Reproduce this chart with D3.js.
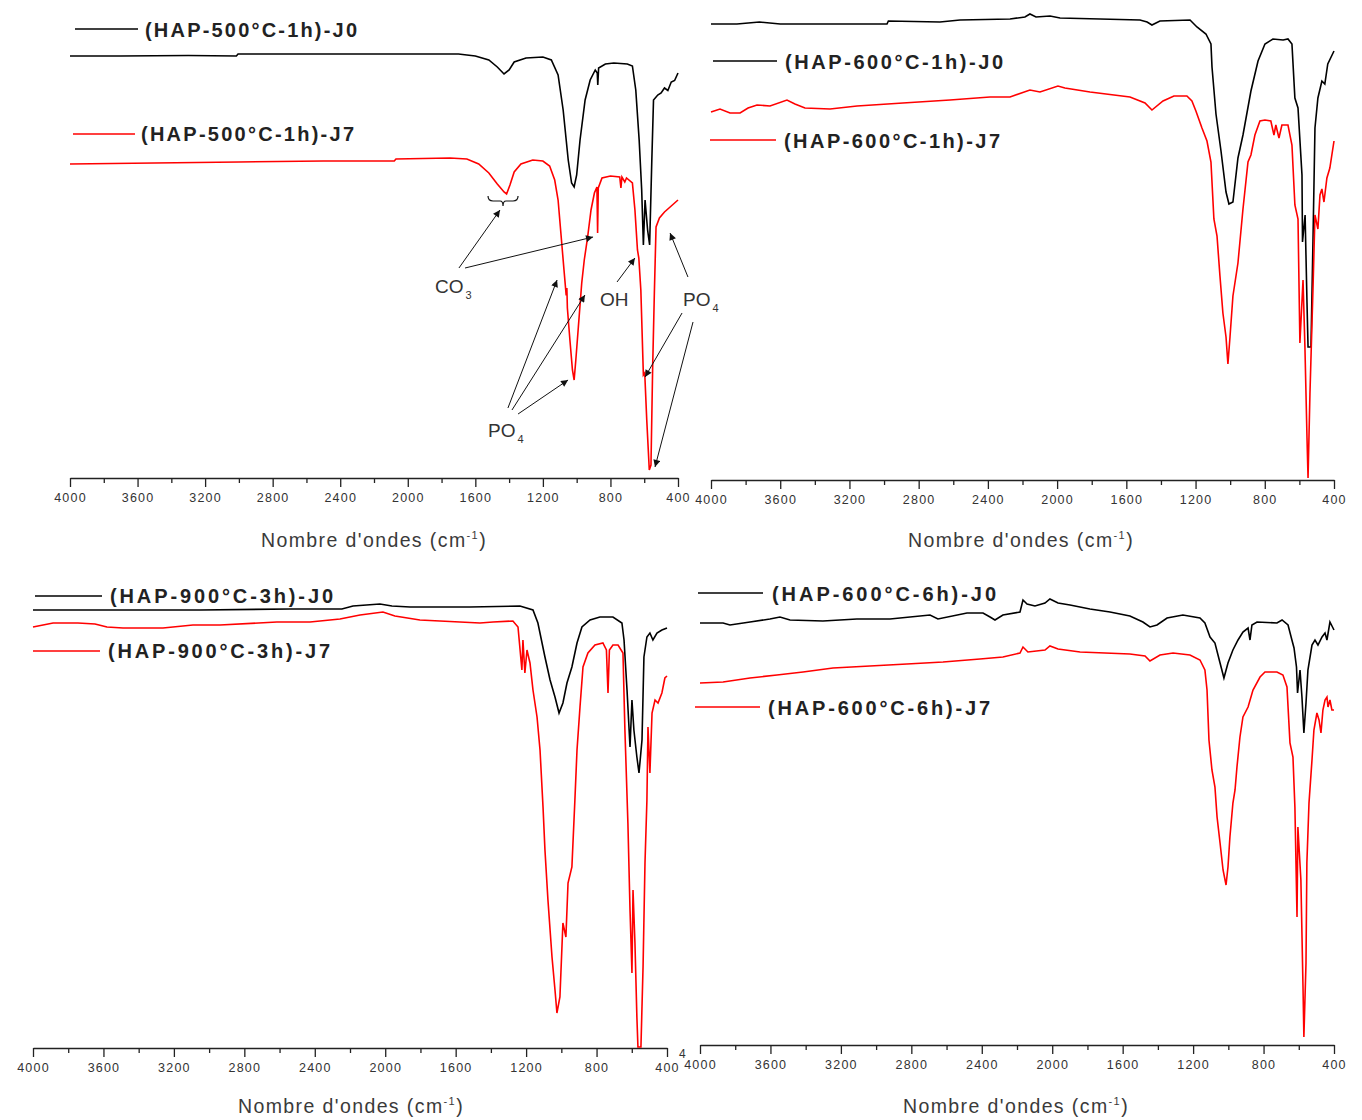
<!DOCTYPE html>
<html><head><meta charset="utf-8">
<script src="https://cdn.jsdelivr.net/npm/d3@7"></script>
<style>
body{margin:0;background:#fff}
text{font-family:"Liberation Sans",Arial,sans-serif}
</style>
</head><body>
<svg id="chart" width="1362" height="1120"></svg>
<script>
// ---------------- DATA ----------------
const majorTicks = [4000,3600,3200,2800,2400,2000,1600,1200,800,400];
const minorTicks = [3800,3400,3000,2600,2200,1800,1400,1000,600];
const seriesLabels = [
  "(HAP-500°C-1h)-J0","(HAP-500°C-1h)-J7",
  "(HAP-600°C-1h)-J0","(HAP-600°C-1h)-J7",
  "(HAP-900°C-3h)-J0","(HAP-900°C-3h)-J7",
  "(HAP-600°C-6h)-J0","(HAP-600°C-6h)-J7"
];
const axisTitle = "Nombre d'ondes (cm";
const axisTitleSup = "-1";

// [wavenumber cm-1, transmittance (a.u.)]
const hap500_1h_J0 = [[4000,84.4],[3700,84.4],[3300,84.5],[3015,84.4],[3005,84.8],[2400,84.8],[1700,84.8],[1600,84.4],[1520,83.6],[1470,82.2],[1430,80.8],[1400,81.6],[1370,83.2],[1300,84],[1200,84.2],[1150,83.6],[1110,80.6],[1080,73.6],[1050,63.6],[1030,59],[1015,58.2],[1000,60.6],[980,67.6],[950,75.6],[920,79.6],[890,81.6],[878,81],[875,78.6],[870,82],[830,82.8],[780,83],[700,82.8],[670,82.4],[650,77.6],[630,67.6],[615,57.6],[605,46.6],[595,55.6],[580,49.6],[568,46.6],[555,63.6],[545,75.6],[520,76.6],[500,77],[480,78],[460,77.5],[440,79.2],[420,79.5],[400,81]];
const hap500_1h_J7 = [[4000,62.8],[3500,63],[3000,63.2],[2500,63.4],[2080,63.4],[2070,63.8],[1750,64],[1650,63.8],[1580,62.8],[1520,61],[1470,58.8],[1430,57.2],[1415,56.8],[1395,58.6],[1370,61.2],[1330,62.8],[1260,63.6],[1200,63.4],[1160,62.4],[1130,59.6],[1110,55.6],[1090,47.6],[1075,41.6],[1062,36.5],[1058,38],[1055,34],[1040,27.6],[1025,21.6],[1015,19.6],[1005,23.6],[990,30.2],[970,39],[955,43.6],[935,48.2],[915,53.6],[895,57],[880,58.2],[876,49],[872,58],[850,60],[800,60.4],[745,60.2],[738,58],[732,60.2],[715,59.2],[705,60],[670,59],[655,53.6],[640,45.6],[632,44],[620,37.6],[605,20.6],[597,21],[585,11.6],[570,1.6],[560,2.6],[550,22.2],[540,37],[530,50.2],[510,52],[480,53.2],[440,54.4],[400,55.6]];
const hap600_1h_J0 = [[4000,91.2],[3850,91.2],[3720,91.6],[3600,91.2],[2983,91.2],[2975,91.8],[2677,91.6],[2561,92],[2272,92.2],[2186,92.6],[2157,93.2],[2122,92.6],[2041,92.8],[1983,92.4],[1752,92.2],[1521,92],[1480,91.6],[1452,91],[1406,91.8],[1232,92],[1192,90.6],[1140,89.2],[1111,87.2],[1105,82.6],[1082,73.2],[1053,65.8],[1024,57.6],[1007,55.2],[984,55.6],[955,64.4],[926,69],[880,77.8],[839,83.8],[799,87.2],[753,88.2],[694,88],[666,88.2],[643,87.2],[626,76.4],[608,74.4],[585,61],[582,47.6],[567,53],[556,35.4],[550,26.6],[533,26.6],[521,48.8],[510,70.4],[493,76.4],[470,79.8],[453,79.2],[436,83.2],[400,85.8]];
const hap600_1h_J7 = [[4000,73.6],[3948,74.2],[3890,73.4],[3832,73.4],[3786,74.4],[3734,75],[3659,74.8],[3561,76],[3515,75.2],[3457,74.4],[3312,74.2],[3156,74.8],[2891,75.4],[2619,76],[2388,76.6],[2272,76.6],[2157,78],[2099,77.6],[1995,78.8],[1955,78.4],[1810,77.6],[1579,76.6],[1492,75.4],[1452,74],[1388,75.8],[1325,76.8],[1250,76.8],[1221,75.8],[1198,73.8],[1163,70.4],[1134,67.8],[1111,63.6],[1094,52.2],[1076,48.8],[1059,40.8],[1042,33.4],[1024,28.6],[1013,23.2],[1001,28.6],[984,36.8],[955,43.4],[926,54.2],[897,63.6],[880,65],[857,69],[828,71.8],[799,72],[765,71.8],[747,69],[736,71],[718,68.4],[701,71],[666,71],[643,67],[626,55],[608,52.2],[597,27.4],[579,40],[568,26.6],[556,8.4],[550,0.4],[539,17.2],[521,38.8],[510,53],[493,50.2],[481,57],[470,58.2],[458,55.6],[441,60.4],[424,62.4],[400,67.8]];
const hap900_3h_J0 = [[4000,87.6],[3052,87.6],[2541,87.8],[2246,87.8],[2183,88.4],[2030,88.8],[1962,88.4],[1859,88.2],[1519,88.2],[1235,88.4],[1161,87.6],[1133,85],[1093,78.2],[1064,73.6],[1036,70.2],[1013,67],[991,69],[968,73],[940,76.2],[911,81],[883,84.2],[837,85.6],[781,86.2],[707,86.2],[656,85],[644,81.6],[627,71.6],[610,60.2],[599,69.6],[588,63.6],[571,58.2],[559,55],[542,61.6],[531,78.2],[514,82.2],[497,83],[480,81.6],[457,83],[429,83.6],[400,84]];
const hap900_3h_J7 = [[4000,84.2],[3886,85],[3745,85],[3648,84.8],[3580,84.2],[3489,84],[3262,84],[3092,84.6],[2938,84.6],[2615,85.2],[2427,85.2],[2257,85.8],[2143,86.6],[2013,87.2],[1945,86.4],[1803,85.6],[1462,85],[1388,85.2],[1275,85.4],[1246,84.2],[1224,75.6],[1218,81.6],[1207,75],[1195,79.6],[1178,77],[1161,71.6],[1138,66.2],[1121,59.6],[1104,48.2],[1093,39.6],[1076,29.6],[1053,18.2],[1036,11.6],[1025,7],[1008,10.2],[991,25],[974,22.2],[962,33],[940,36.2],[923,49.6],[911,59.6],[894,68.2],[877,76.2],[849,79],[809,80.6],[764,81],[744,79.6],[735,71],[727,79.6],[707,80.6],[678,80.6],[650,79],[639,63.6],[622,45],[610,27.6],[599,15],[593,31.6],[582,21],[571,6.2],[565,0.2],[548,0.2],[536,16.2],[525,37],[514,49.6],[508,64.2],[497,55],[485,67],[468,69.6],[451,69],[429,71],[412,74],[400,74.4]];
const hap600_6h_J0 = [[4000,84.4],[3869,84.4],[3830,84],[3716,84.6],[3603,85.2],[3546,85.6],[3489,85],[3302,84.8],[3109,85.2],[2921,85.2],[2694,86],[2649,85.2],[2484,86.4],[2393,86.4],[2353,85.6],[2325,85],[2280,86],[2183,86.6],[2166,89],[2143,88.2],[2098,87.8],[2041,88.4],[2013,89.2],[1967,88.4],[1899,88],[1786,87.2],[1672,86.6],[1559,85.8],[1485,84.6],[1445,83.6],[1405,84],[1348,85.4],[1258,86],[1161,85.4],[1133,84.4],[1104,81.6],[1076,80.4],[1047,76.4],[1025,73.4],[1002,76.4],[974,79],[945,81],[917,82.6],[888,83.4],[877,81],[866,84],[837,84.6],[724,84.4],[695,85],[661,84],[639,81],[627,79.4],[613,75.6],[607,70.4],[593,75],[582,69.6],[571,62.4],[559,68.4],[548,75],[525,80],[508,81],[491,80],[468,81.6],[451,82.4],[440,81],[423,84.6],[400,83]];
const hap600_6h_J7 = [[4000,72.4],[3869,72.6],[3716,73.4],[3563,74],[3415,74.6],[3245,75.4],[3035,75.8],[2825,76.2],[2620,76.6],[2410,77.2],[2280,77.6],[2183,78.4],[2166,79.6],[2138,78.6],[2041,79],[2013,79.8],[1967,79.2],[1842,78.6],[1559,78.2],[1473,77.8],[1445,76.8],[1388,78],[1314,78.4],[1218,78],[1161,77],[1133,75],[1121,71],[1110,61],[1093,55],[1076,51.6],[1064,45.6],[1047,40.4],[1030,35],[1013,32],[1002,35.6],[991,41.6],[974,48.4],[962,51],[951,55.6],[934,61.6],[917,65.6],[888,67.6],[860,71],[820,73.6],[792,74.6],[724,74.6],[690,74],[667,71.6],[650,60.4],[633,57.6],[622,47.6],[610,25.6],[605,43.6],[588,33],[576,11.6],[571,1.6],[559,16.4],[554,36.4],[542,48.4],[525,57],[514,63],[497,66.4],[485,65],[474,62.4],[463,67],[451,69],[440,69.6],[434,67.6],[423,69],[412,67],[400,67]];

// Annotations of the first panel, in data coordinates [wavenumber, transmittance]
const annotationLabels = [
  {text:"CO", sub:"3", at:[1839,37]},
  {text:"PO", sub:"4", at:[1525,8.2]},
  {text:"OH", sub:"",  at:[862,34.4]},
  {text:"PO", sub:"4", at:[370,34.4]}
];
const annotationArrows = [
  [[1697,42],[1454,53.6]],
  [[1661,42],[903,48.2]],
  [[1407,14],[1116,39.6]],
  [[1383,13.6],[951,36.6]],
  [[1347,12.8],[1051,19.6]],
  [[761,39.2],[655,44]],
  [[341,40.2],[447,49]],
  [[376,33],[595,20.2]],
  [[311,31.2],[536,2.2]]
];
const braceAnchor = [1436,55.4];

// ---------------- LAYOUT ----------------
const panels = [
  {x0:70, x1:678, axisY:478, titleX:374, titleY:547,
   series:[
     {data:hap500_1h_J0, label:seriesLabels[0], color:"#000", lx0:75, lx1:138, ly:29, tx:145, ty:37, tl:212},
     {data:hap500_1h_J7, label:seriesLabels[1], color:"#ff0000", lx0:73, lx1:135, ly:134, tx:141, ty:141, tl:213}]},
  {x0:711, x1:1334, axisY:480, titleX:1021, titleY:547,
   series:[
     {data:hap600_1h_J0, label:seriesLabels[2], color:"#000", lx0:713, lx1:777, ly:61, tx:785, ty:69, tl:218},
     {data:hap600_1h_J7, label:seriesLabels[3], color:"#ff0000", lx0:710, lx1:776, ly:140, tx:784, ty:148, tl:216}]},
  {x0:33, x1:667, axisY:1048, titleX:351, titleY:1113,
   series:[
     {data:hap900_3h_J0, label:seriesLabels[4], color:"#000", lx0:35, lx1:102, ly:596, tx:110, ty:603, tl:223},
     {data:hap900_3h_J7, label:seriesLabels[5], color:"#ff0000", lx0:33, lx1:100, ly:651, tx:108, ty:658, tl:222}]},
  {x0:700, x1:1334, axisY:1045, titleX:1016, titleY:1113,
   series:[
     {data:hap600_6h_J0, label:seriesLabels[6], color:"#000", lx0:698, lx1:763, ly:593, tx:772, ty:601, tl:224},
     {data:hap600_6h_J7, label:seriesLabels[7], color:"#ff0000", lx0:695, lx1:760, ly:707, tx:768, ty:715, tl:222}]}
];

const svg = d3.select("#chart");
const defs = svg.append("defs");
defs.append("marker").attr("id","arrow").attr("viewBox","0 0 10 10")
  .attr("refX",10).attr("refY",5).attr("markerWidth",9).attr("markerHeight",7)
  .attr("markerUnits","userSpaceOnUse").attr("orient","auto")
  .append("path").attr("d","M0,0 L10,5 L0,10 Z").attr("fill","#111");

panels.forEach((p, i) => {
  const x = d3.scaleLinear().domain([4000,400]).range([p.x0,p.x1]);
  const y = d3.scaleLinear().domain([0,92]).range([p.axisY,p.axisY-460]);
  const g = svg.append("g");

  // axis
  const ax = g.append("g").attr("transform",`translate(0,${p.axisY})`)
    .call(d3.axisBottom(x).tickValues(majorTicks).tickSize(9).tickSizeOuter(0).tickFormat(d3.format("d")));
  ax.select(".domain").attr("stroke","#222").attr("stroke-width",1.3);
  ax.selectAll(".tick line").attr("stroke","#222").attr("stroke-width",1.3);
  ax.selectAll(".tick text").attr("fill","#333").attr("font-size","12.5px")
    .attr("letter-spacing","1.2px").attr("dy","0.95em")
    .style("font-family","'Liberation Sans',Arial,sans-serif");
  const mx = g.append("g").attr("transform",`translate(0,${p.axisY})`)
    .call(d3.axisBottom(x).tickValues(minorTicks).tickSize(5).tickSizeOuter(0).tickFormat(""));
  mx.select(".domain").remove();
  mx.selectAll(".tick line").attr("stroke","#222").attr("stroke-width",1.3);

  // axis title
  const t = g.append("text").attr("x",p.titleX).attr("y",p.titleY)
    .attr("text-anchor","middle").attr("fill","#3a3a3a").attr("font-size","19.5px")
    .attr("letter-spacing","1.4px");
  t.append("tspan").text(axisTitle);
  t.append("tspan").attr("dy",-8).attr("font-size","11px").text(axisTitleSup);
  t.append("tspan").attr("dy",8).text(")");

  // spectra
  const line = d3.line().x(d=>x(d[0])).y(d=>y(d[1]));
  p.series.forEach(s => {
    g.append("path").datum(s.data).attr("d",line).attr("fill","none")
      .attr("stroke",s.color).attr("stroke-width",1.6).attr("stroke-linejoin","miter");
    g.append("line").attr("x1",s.lx0).attr("x2",s.lx1).attr("y1",s.ly).attr("y2",s.ly)
      .attr("stroke",s.color).attr("stroke-width",1.5);
    g.append("text").attr("x",s.tx).attr("y",s.ty).attr("font-size","20px").attr("font-weight","bold")
      .attr("fill","#222").attr("textLength",s.tl).attr("lengthAdjust","spacing").text(s.label);
  });

  if (i === 0) {
    // annotations
    annotationArrows.forEach(a => {
      g.append("line").attr("x1",x(a[0][0])).attr("y1",y(a[0][1]))
        .attr("x2",x(a[1][0])).attr("y2",y(a[1][1]))
        .attr("stroke","#111").attr("stroke-width",1).attr("marker-end","url(#arrow)");
    });
    annotationLabels.forEach(l => {
      const tt = g.append("text").attr("x",x(l.at[0])).attr("y",y(l.at[1]))
        .attr("font-size","19px").attr("fill","#333");
      tt.append("tspan").text(l.text);
      if (l.sub) tt.append("tspan").attr("dy",6).attr("dx",2).attr("font-size","11px").text(l.sub);
    });
    const bx = x(braceAnchor[0]), by = y(braceAnchor[1]);
    g.append("path")
      .attr("d",`M${bx-15},${by-5} Q${bx-15},${by} ${bx-10},${by} L${bx-3},${by} Q${bx},${by} ${bx},${by+5} Q${bx},${by} ${bx+3},${by} L${bx+10},${by} Q${bx+15},${by} ${bx+15},${by-5}`)
      .attr("fill","none").attr("stroke","#111").attr("stroke-width",1.2);
  }
  if (i === 2) {
    // stray subscript digit visible next to the last tick label in the original
    g.append("text").attr("x",x(400)+12).attr("y",p.axisY+10).attr("font-size","12px").attr("fill","#333").text("4");
  }
});
</script>
</body></html>
